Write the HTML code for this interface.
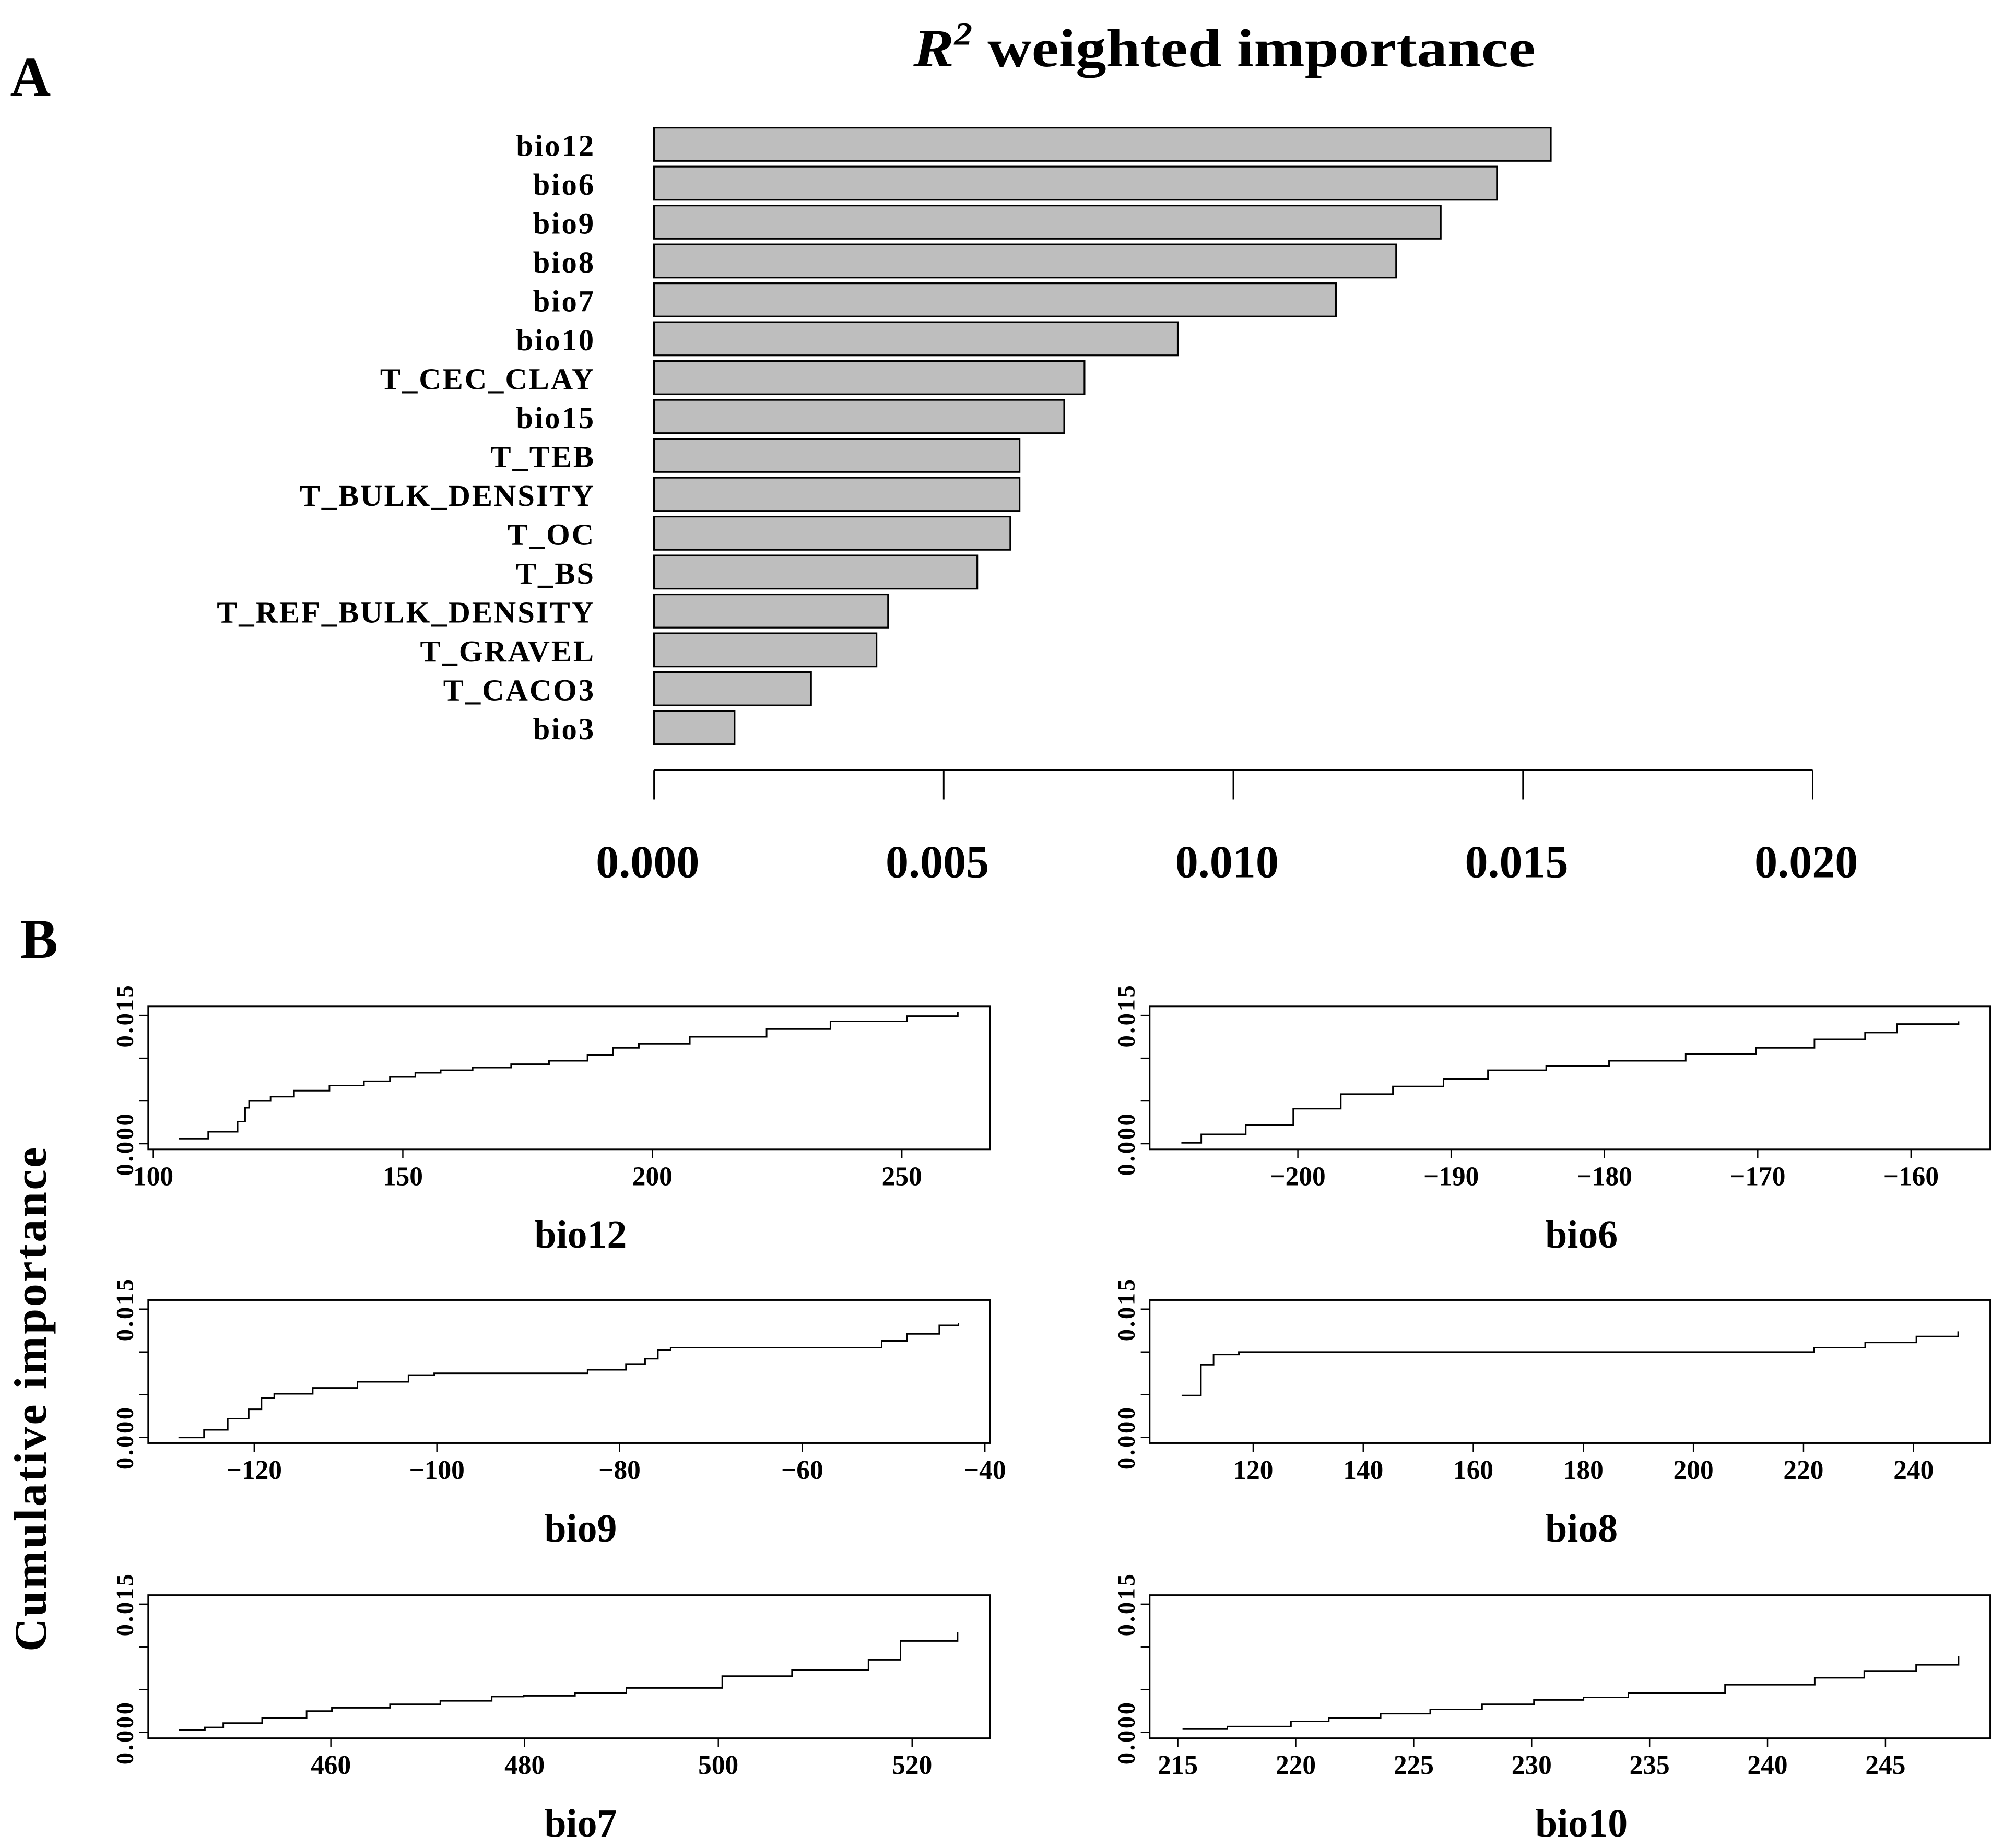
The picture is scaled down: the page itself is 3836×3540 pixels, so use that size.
<!DOCTYPE html>
<html><head><meta charset="utf-8">
<style>
html,body{margin:0;padding:0;background:#fff;}
svg{display:block;}
text{font-family:"Liberation Serif",serif;font-weight:bold;fill:#000;}
</style></head>
<body>
<svg id="fig" xmlns="http://www.w3.org/2000/svg" width="3836" height="3540" viewBox="0 0 1568 1447" preserveAspectRatio="none">
<rect x="0" y="0" width="1568" height="1447" fill="#fff"/>
<text x="8" y="75" font-size="44">A</text>
<text x="715" y="52" font-size="42" textLength="487" lengthAdjust="spacingAndGlyphs"><tspan font-style="italic">R</tspan><tspan font-size="25" dy="-17" font-style="italic">2</tspan><tspan dy="17">  weighted importance</tspan></text>
<text x="16" y="750" font-size="44">B</text>
<text transform="translate(36,1095) rotate(-90)" font-size="36" text-anchor="middle" letter-spacing="1.5">Cumulative importance</text>
<g id="barg"></g>
<g id="panels"></g>
</svg>
<script>
// ---- Panel A data ----
const barLabels = ["bio12","bio6","bio9","bio8","bio7","bio10","T_CEC_CLAY","bio15","T_TEB","T_BULK_DENSITY","T_OC","T_BS","T_REF_BULK_DENSITY","T_GRAVEL","T_CACO3","bio3"];
const barValues = [0.01548,0.01455,0.01358,0.01281,0.01177,0.00904,0.00743,0.00708,0.00631,0.00631,0.00615,0.00558,0.00404,0.00384,0.00271,0.00139];
const barTicks = [0,0.005,0.010,0.015,0.020];
const barTickLabels = ["0.000","0.005","0.010","0.015","0.020"];

// ---- Panel B data ----
const panelNames = ["bio12","bio6","bio9","bio8","bio7","bio10"];
const bio12X = [105.1,111,116.9,118.4,119.2,123.5,128.2,135.3,142.2,147.4,152.5,157.6,164,171.7,179.3,187,192.1,197.3,207.5,222.9,235.7,251,261.2];
const bio12Y = [.0006,.0014,.0026,.0042,.005,.0055,.0062,.0068,.0073,.0078,.0083,.0086,.0089,.0093,.0097,.0104,.0112,.0117,.0125,.0134,.0143,.0149,.0154];
const bio6X = [-207.6,-206.3,-203.4,-200.3,-197.2,-193.8,-190.5,-187.6,-183.8,-179.7,-174.7,-170.1,-166.3,-163,-160.9,-156.9];
const bio6Y = [.0001,.0011,.0022,.0041,.0058,.0067,.0076,.0086,.0091,.0097,.0105,.0112,.0122,.013,.014,.0143];
const bio9X = [-128.3,-125.5,-122.9,-120.6,-119.2,-117.8,-113.6,-108.7,-103.1,-100.3,-86.3,-83.5,-79.3,-77.2,-75.8,-74.4,-52.7,-51.3,-48.5,-45,-42.9];
const bio9Y = [0,.0009,.0022,.0033,.0046,.0051,.0058,.0065,.0073,.0075,.0075,.0079,.0086,.0092,.0102,.0105,.0105,.0113,.0121,.0131,.0134];
const bio8X = [107,110.5,112.8,117.4,214.9,221.9,231.2,240.5,248.1];
const bio8Y = [.0049,.0085,.0097,.01,.01,.0105,.0111,.0118,.0124];
const bio7X = [444.3,447,448.9,452.9,457.5,460.1,466.1,471.3,476.6,479.9,485.2,490.5,499,500.4,507.6,515.5,518.8,524.7];
const bio7Y = [.0003,.0006,.0011,.0017,.0025,.0029,.0033,.0037,.0042,.0043,.0046,.0052,.0052,.0066,.0073,.0085,.0107,.0117];
const bio10X = [215.2,217.1,219.8,221.4,223.6,225.7,227.9,230.1,232.2,234.1,238.2,242,244.1,246.3,248.1];
const bio10Y = [.0004,.0007,.0013,.0017,.0022,.0027,.0033,.0038,.0041,.0046,.0056,.0064,.0072,.0079,.0089];
const xTicks = [[100,150,200,250],[-200,-190,-180,-170,-160],[-120,-100,-80,-60,-40],[120,140,160,180,200,220,240],[460,480,500,520],[215,220,225,230,235,240,245]];
const xTickLabels = [["100","150","200","250"],["\u2212200","\u2212190","\u2212180","\u2212170","\u2212160"],["\u2212120","\u2212100","\u221280","\u221260","\u221240"],["120","140","160","180","200","220","240"],["460","480","500","520"],["215","220","225","230","235","240","245"]];
const yTicks = [0,0.005,0.010,0.015];
const seriesX = [bio12X,bio6X,bio9X,bio8X,bio7X,bio10X];
const seriesY = [bio12Y,bio6Y,bio9Y,bio8Y,bio7Y,bio10Y];

const NS="http://www.w3.org/2000/svg";
function mk(tag,attrs,parent){const e=document.createElementNS(NS,tag);for(const k in attrs)e.setAttribute(k,attrs[k]);parent.appendChild(e);return e;}

// Panel A
const barg=document.getElementById('barg');
const bx0=512,bx1=1419,bmax=0.020;
const xA=v=>bx0+(bx1-bx0)*v/bmax;
const barStep=30.45,barTop0=100,barH=26;
barLabels.forEach((lab,i)=>{
  const y=barTop0+i*barStep;
  const r=mk('rect',{x:xA(0),y:y,width:xA(barValues[i])-xA(0),height:barH,fill:'#bebebe',stroke:'#000','stroke-width':1.3},barg);
  
  
  const t=mk('text',{x:466,y:y+barH/2+9,'font-size':24,'text-anchor':'end','letter-spacing':1.2},barg);
  t.textContent=lab;
  
  
});
const axA=mk('line',{x1:xA(0),x2:xA(bmax),y1:603,y2:603,stroke:'#000','stroke-width':1.2},barg);


barTicks.forEach((v,i)=>{
  const l=mk('line',{x1:xA(v),x2:xA(v),y1:603,y2:626,stroke:'#000','stroke-width':1.2},barg);
  
  
  const t=mk('text',{x:xA(v)-5,y:687,'font-size':36,'text-anchor':'middle'},barg);
  t.textContent=barTickLabels[i];
  
  
});

// Panel B
const pg=document.getElementById('panels');
const boxes=[[116,775,788],[900,1558,788],[116,775,1018],[900,1558,1018],[116,775,1249],[900,1558,1249]];
const cal=[[100,120,250,706],[-200,1016,-160,1496],[-120,199,-40,771],[120,981,240,1498],[460,259,520,714],[215,922,245,1476]];
const bh=112;
panelNames.forEach((nm,p)=>{
  const [L,R,T]=boxes[p];
  const c=cal[p];
  const X=v=>c[1]+(v-c[0])*(c[3]-c[1])/(c[2]-c[0]);
  const y0=T+bh*244/254, y15=T+bh*16/254;
  const Y=v=>y0+(y15-y0)*v/0.015;
  const g=mk('g',{},pg);
  
  
  const box=mk('rect',{x:L,y:T,width:R-L,height:bh,fill:'none',stroke:'#000','stroke-width':1.2},g);
  
  
  yTicks.forEach(v=>{
    const l=mk('line',{x1:L-7,x2:L,y1:Y(v),y2:Y(v),stroke:'#000','stroke-width':1},g);
    
    
  });
  [[0,'0.000'],[0.015,'0.015']].forEach(([v,s])=>{
    const t=mk('text',{transform:`translate(${L-12},${Y(v)}) rotate(-90)`,'font-size':19,'text-anchor':'middle','letter-spacing':1.5},g);
    t.textContent=s;
    
    
  });
  xTicks[p].forEach((v,i)=>{
    const l=mk('line',{x1:X(v),x2:X(v),y1:T+bh,y2:T+bh+7,stroke:'#000','stroke-width':1},g);
    
    
    const t=mk('text',{x:X(v),y:T+bh+28,'font-size':21,'text-anchor':'middle'},g);
    t.textContent=xTickLabels[p][i];
    
    
  });
  const tt=mk('text',{x:(L+R)/2+9,y:T+bh+77,'font-size':31,'text-anchor':'middle'},g);
  tt.textContent=nm;
  
  
  const xs=seriesX[p],ys=seriesY[p];
  let d='M'+X(xs[0]).toFixed(1)+','+Y(ys[0]).toFixed(1);
  for(let i=1;i<xs.length;i++){d+=' H'+X(xs[i]).toFixed(1)+' V'+Y(ys[i]).toFixed(1);}
  const path=mk('path',{d:d,fill:'none',stroke:'#000','stroke-width':1.2},g);
  
  
});
</script>
</body></html>
